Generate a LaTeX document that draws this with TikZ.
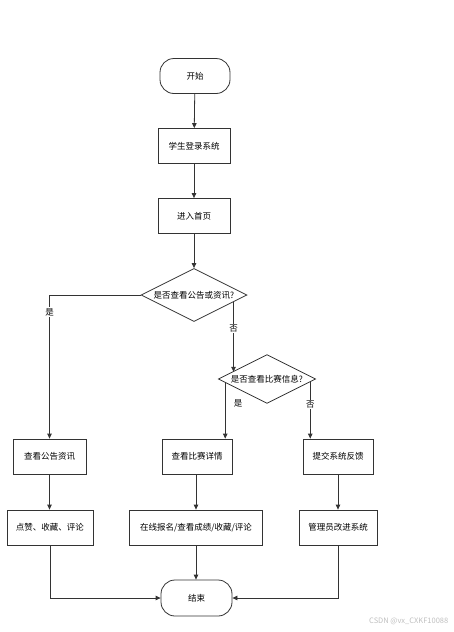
\documentclass[tikz,border=0pt]{standalone}
\usepackage{fontspec}
\setmainfont{Noto Sans CJK SC}
\usetikzlibrary{arrows.meta, positioning, shapes.geometric, calc}

\begin{document}
\begin{tikzpicture}[
    x=1pt, y=-1pt,
    every node/.style={font=\fontsize{8.5}{10}\selectfont, line width=0.8pt},
    proc/.style={rectangle, draw=black!80, minimum height=35pt, inner sep=2pt},
    term/.style={rectangle, rounded corners=14pt, draw=black!80, minimum height=35pt},
    decide/.style={diamond, draw=black!80, aspect=2, inner sep=1.6pt},
    lbl/.style={fill=white, inner sep=1pt},
    flow/.style={draw=black!80, line width=0.8pt, -{Triangle[length=5pt,width=4.5pt]}}
]
\useasboundingbox (0,0) rectangle (454,632);

% main column
\node[term, minimum width=70pt] (start) at (195, 76) {开始};
\node[proc, minimum width=72pt] (login) at (194, 146) {学生登录系统};
\node[proc, minimum width=72pt] (home) at (194, 216) {进入首页};
\node[decide] (d1) at (194, 295) {是否查看公告或资讯?};
\node[decide] (d2) at (267, 379) {是否查看比赛信息?};

% branches
\node[proc, minimum width=73pt] (news) at (49.5, 456.5) {查看公告资讯};
\node[proc, minimum width=70pt] (match) at (197, 456.5) {查看比赛详情};
\node[proc, minimum width=70pt] (feedback) at (338, 456.5) {提交系统反馈};
\node[proc, minimum width=86pt] (like) at (50, 527.5) {点赞、收藏、评论};
\node[proc, minimum width=133pt] (signup) at (196, 527.5) {在线报名/查看成绩/收藏/评论};
\node[proc, minimum width=78pt] (admin) at (338, 527.5) {管理员改进系统};
\node[term, minimum width=71pt, minimum height=36pt] (end) at (196.5, 598) {结束};

% points on the diamond edges
\coordinate (n1) at ($(d1.east)!0.26!(d1.south)$);
\coordinate (n2) at ($(d2.west)!0.29!(d2.north)$);
\coordinate (m1) at ($(d2.west)!0.15!(d2.south)$);
\coordinate (m2) at ($(d2.east)!0.12!(d2.south)$);

\draw[flow] (start) -- (login);
\draw[flow] (login) -- (home);
\draw[flow] (home) -- (d1);
\draw[flow] (d1.west) -| node[lbl, pos=0.56] {是} (news.north);
\draw[flow] (n1) -- node[lbl, pos=0.38] {否} (n1 |- n2);
\draw[flow] (m1) -- (m1 |- match.north);
\node[inner sep=1pt] (yes2) at (238, 403) {是};
\draw[flow] (m2) -- node[lbl, pos=0.4] {否} (m2 |- feedback.north);
\draw[flow] (news) -- (news |- like.north);
\draw[flow] (match.south -| signup) -- (signup.north);
\draw[flow] (feedback) -- (admin);
\draw[flow] (like.south) |- (end.west);
\draw[flow] (signup.south) -- (signup.south |- end.north);
\draw[flow] (admin.south) |- (end.east);

\node[text=black!25, font=\fontsize{7.5}{9}\selectfont, anchor=east] (mark) at (452, 621) {CSDN @vx\_CXKF10088};
\end{tikzpicture}
\end{document}
